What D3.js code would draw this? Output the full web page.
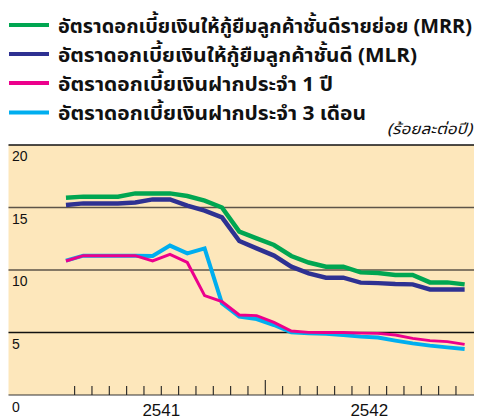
<!DOCTYPE html>
<html>
<head>
<meta charset="utf-8">
<script src="https://cdn.jsdelivr.net/npm/d3@7"></script>
<style>
  html, body { margin: 0; padding: 0; background: #ffffff; }
  svg { display: block; }
  .thai { font-family: "Noto Sans Thai", "Tahoma", "DejaVu Sans", "Noto Sans", sans-serif; }
  .num { font-family: "Liberation Sans", Arial, sans-serif; }
</style>
</head>
<body>
<svg id="chart" width="480" height="420"></svg>
<script>
// Interest rates (percent per year), monthly, B.E. 2541 – 2542
const years = ["2541", "2542"];

const mrr = [15.78, 15.87, 15.87, 15.87, 16.13, 16.13, 16.13, 15.92, 15.55, 15.0, 13.07, 12.53,
             12.0, 11.12, 10.6, 10.27, 10.27, 9.81, 9.76, 9.6, 9.6, 9.01, 9.01, 8.85];
const mlr = [15.2, 15.33, 15.33, 15.33, 15.4, 15.65, 15.65, 15.15, 14.75, 14.21, 12.32, 11.73,
             11.15, 10.27, 9.73, 9.39, 9.39, 8.99, 8.95, 8.88, 8.85, 8.45, 8.45, 8.45];
const deposit1y = [10.72, 11.15, 11.15, 11.15, 11.15, 10.72, 11.25, 10.6, 7.95, 7.47, 6.4, 6.35,
                   5.81, 5.12, 5.01, 5.0, 5.0, 4.95, 4.93, 4.8, 4.53, 4.35, 4.27, 4.05];
const deposit3m = [10.75, 11.15, 11.15, 11.15, 11.15, 11.12, 11.95, 11.33, 11.73, 7.33, 6.27, 6.08,
                   5.6, 5.01, 4.93, 4.9, 4.8, 4.67, 4.6, 4.35, 4.13, 3.95, 3.81, 3.68];

const seriesNames = [
  "อัตราดอกเบี้ยเงินให้กู้ยืมลูกค้าชั้นดีรายย่อย (MRR)",
  "อัตราดอกเบี้ยเงินให้กู้ยืมลูกค้าชั้นดี (MLR)",
  "อัตราดอกเบี้ยเงินฝากประจำ 1 ปี",
  "อัตราดอกเบี้ยเงินฝากประจำ 3 เดือน"
];
const seriesColors = ["#00a651", "#2e3192", "#ec008c", "#00aeef"];
const yTicks = [5, 10, 15, 20];
const unitLabel = "(ร้อยละต่อปี)";

const svg = d3.select("#chart");

// plot frame
const frame = { left: 8.5, right: 474, top: 145, bottom: 395 };

// x: month index, 0 = start of 2541, 24 = end of 2542
const x = d3.scaleLinear().domain([0, 24]).range([57.3, 473.3]);
const y = d3.scaleLinear().domain([0, 20]).range([frame.bottom, frame.top]);

// background panel
svg.append("rect")
  .attr("x", frame.left).attr("y", frame.top)
  .attr("width", frame.right - frame.left).attr("height", frame.bottom - frame.top)
  .attr("fill", "#fde7bb");

// horizontal grid lines
svg.append("g").selectAll("line").data(yTicks).join("line")
  .attr("x1", frame.left).attr("x2", frame.right)
  .attr("y1", d => y(d)).attr("y2", d => y(d))
  .attr("stroke", d => (d === 5 || d === 20) ? "#111" : "#5d5448")
  .attr("stroke-width", d => d === 20 ? 1.6 : 1.3);

// y labels, sitting just under each grid line
svg.append("g").selectAll("text").data(yTicks).join("text")
  .attr("class", "num")
  .attr("x", 12).attr("y", d => y(d) + 16)
  .attr("font-size", 14).attr("fill", "#111")
  .text(d => d);
svg.append("text").attr("class", "num")
  .attr("x", 12).attr("y", 411.5)
  .attr("font-size", 14).attr("fill", "#111").text("0");

// baseline and month ticks
svg.append("line")
  .attr("x1", frame.left).attr("x2", frame.right)
  .attr("y1", frame.bottom).attr("y2", frame.bottom)
  .attr("stroke", "#333").attr("stroke-width", 1.2);

svg.append("g").selectAll("line").data(d3.range(1, 24)).join("line")
  .attr("x1", d => x(d)).attr("x2", d => x(d))
  .attr("y1", d => d === 12 ? 380 : 386).attr("y2", frame.bottom)
  .attr("stroke", "#222").attr("stroke-width", 1.1);

// year labels centred under their months
svg.append("g").selectAll("text").data(years).join("text")
  .attr("class", "num")
  .attr("x", (d, i) => x(i * 12 + 6)).attr("y", 416)
  .attr("text-anchor", "middle")
  .attr("font-size", 17).attr("fill", "#111")
  .text(d => d);

// series lines
const line = d3.line().x((d, i) => x(i + 0.5)).y(d => y(d));
const drawOrder = [
  { data: mlr, color: seriesColors[1], w: 4.5 },
  { data: mrr, color: seriesColors[0], w: 4.5 },
  { data: deposit3m, color: seriesColors[3], w: 4 },
  { data: deposit1y, color: seriesColors[2], w: 3 }
];
svg.append("g").selectAll("path").data(drawOrder).join("path")
  .attr("d", d => line(d.data))
  .attr("fill", "none")
  .attr("stroke", d => d.color)
  .attr("stroke-width", d => d.w)
  .attr("stroke-linejoin", "miter");

// legend
const legendY = [25, 54, 83, 112.5];
const legendWidths = [414, 359, 275, 308];
const legend = svg.append("g");
const items = legend.selectAll("g").data(seriesNames).join("g")
  .attr("transform", (d, i) => `translate(0, ${legendY[i]})`);
items.append("line")
  .attr("x1", 9).attr("x2", 49).attr("y1", 0).attr("y2", 0)
  .attr("stroke", (d, i) => seriesColors[i]).attr("stroke-width", 4);
items.append("text")
  .attr("class", "thai")
  .attr("x", 58).attr("y", 7.5)
  .attr("font-size", 20).attr("font-weight", "bold").attr("fill", "#111")
  .attr("textLength", (d, i) => legendWidths[i])
  .attr("lengthAdjust", "spacingAndGlyphs")
  .text(d => d);

svg.append("text")
  .attr("class", "thai")
  .attr("x", 472).attr("y", 134)
  .attr("text-anchor", "end")
  .attr("font-size", 15).attr("font-style", "italic").attr("fill", "#111")
  .attr("textLength", 85)
  .attr("lengthAdjust", "spacingAndGlyphs")
  .text(unitLabel);
</script>
</body>
</html>
